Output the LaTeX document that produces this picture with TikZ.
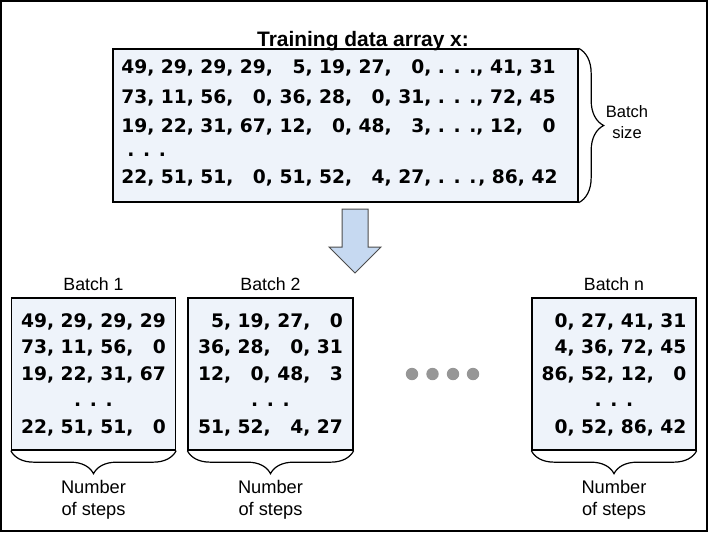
\documentclass[tikz,border=0pt]{standalone}
\usepackage{fontspec}
\setmainfont{Liberation Sans}
\newfontfamily\numfont{DejaVu Sans}
\usetikzlibrary{positioning,decorations.pathreplacing}
\definecolor{boxfill}{RGB}{238,243,250}
\definecolor{arrowfill}{RGB}{198,217,241}
\definecolor{dotgray}{RGB}{150,150,150}
\newcommand{\z}{\phantom{0}}
\tikzset{
  databox/.style={draw=black, line width=1pt, fill=boxfill, inner sep=0pt, minimum height=114pt},
  num/.style={font=\numfont\bfseries\fontsize{14}{16}\selectfont, inner sep=0pt},
  lbl/.style={font=\fontsize{13.3}{16}\selectfont, inner sep=0pt},
  steps/.style={font=\fontsize{13.7}{16.5}\selectfont, inner sep=0pt, align=center},
  brc/.style={decorate, decoration={brace, amplitude=#1}, line width=0.9pt},
  brc/.default=17pt,
  dot/.style={circle, fill=dotgray, minimum size=9.3pt, inner sep=0pt},
}
\begin{document}
\begin{tikzpicture}[x=0.75pt,y=-0.75pt]
\useasboundingbox (0,0) rectangle (709,532);
\draw [line width=1.5pt] (1,1) rectangle (706.5,530.5);
% whole array
\node[databox, minimum width=348.75pt, minimum height=114.75pt] (arr) at (345.5,125.5) {};
\node[font=\bfseries\fontsize{15.7}{18}\selectfont, inner sep=0pt, anchor=base] (title) at (363,46) {Training data array x:};
\node[num, anchor=base west] (r1) at (121,73.5) {49, 29, 29, 29, \z5, 19, 27, \z0, . . ., 41, 31};
\node[num, anchor=base west] (r2) at (121,103) {73, 11, 56, \z0, 36, 28, \z0, 31, . . ., 72, 45};
\node[num, anchor=base west] (r3) at (121,132) {19, 22, 31, 67, 12, \z0, 48, \z3, . . ., 12, \z0};
\node[num, anchor=base west] (r4) at (127,156) {. . .};
\node[num, anchor=base west] (r5) at (121,183) {22, 51, 51, \z0, 51, 52, \z4, 27, . . .\hspace{0.1em}, 86, 42};
\draw [brc=18.75pt] (arr.north east) -- (arr.south east);
\node[font=\fontsize{12.4}{15.4}\selectfont, inner sep=0pt, align=center] (bsize) at (627,122) {Batch\\size};
% arrow
\draw [fill=arrowfill, draw=black!70, line width=0.75pt] (342,209) -- (368,209) -- (368,247) -- (381,247) -- (355,273) -- (329,247) -- (342,247) -- cycle;
% batches
\node[databox, minimum width=123pt] (b1) at (93.5,374) {};
\node[databox, minimum width=123.75pt] (b2) at (270.5,374) {};
\node[databox, minimum width=123pt] (bn) at (614,374) {};
\node[lbl, above=4.5pt of b1] (t1) {Batch 1};
\node[lbl, above=4.5pt of b2] (t2) {Batch 2};
\node[lbl, above=4.5pt of bn] (tn) {Batch n};
\foreach \row [count=\i] in {{49, 29, 29, 29}, {73, 11, 56, \z0}, {19, 22, 31, 67}, {. . .}, {22, 51, 51, \z0}}
  \node[num, anchor=base] (b1r\i) at (93.5,300.5+26.5*\i) {\row};
\foreach \row [count=\i] in {{\z5, 19, 27, \z0}, {36, 28, \z0, 31}, {12, \z0, 48, \z3}, {. . .}, {51, 52, \z4, 27}}
  \node[num, anchor=base] (b2r\i) at (270.5,300.5+26.5*\i) {\row};
\foreach \row [count=\i] in {{\z0, 27, 41, 31}, {\z4, 36, 72, 45}, {86, 52, 12, \z0}, {. . .}, {\z0, 52, 86, 42}}
  \node[num, anchor=base] (bnr\i) at (614,300.5+26.5*\i) {\row};
% dots between
\foreach \x [count=\i] in {412,432.5,453,473}
  \node[dot] (d\i) at (\x,374) {};
% number of steps
\draw [brc=17.25pt] (b1.south east) -- (b1.south west);
\draw [brc=17.25pt] (b2.south east) -- (b2.south west);
\draw [brc=17.25pt] (bn.south east) -- (bn.south west);
\coordinate (tip1) at (93.5,473);
\coordinate (tip2) at (270.5,473);
\coordinate (tipn) at (614,473);
\node[steps, below=5pt of tip1] (s1) {Number\\of steps};
\node[steps, below=5pt of tip2] (s2) {Number\\of steps};
\node[steps, below=5pt of tipn] (sn) {Number\\of steps};
\end{tikzpicture}
\end{document}
